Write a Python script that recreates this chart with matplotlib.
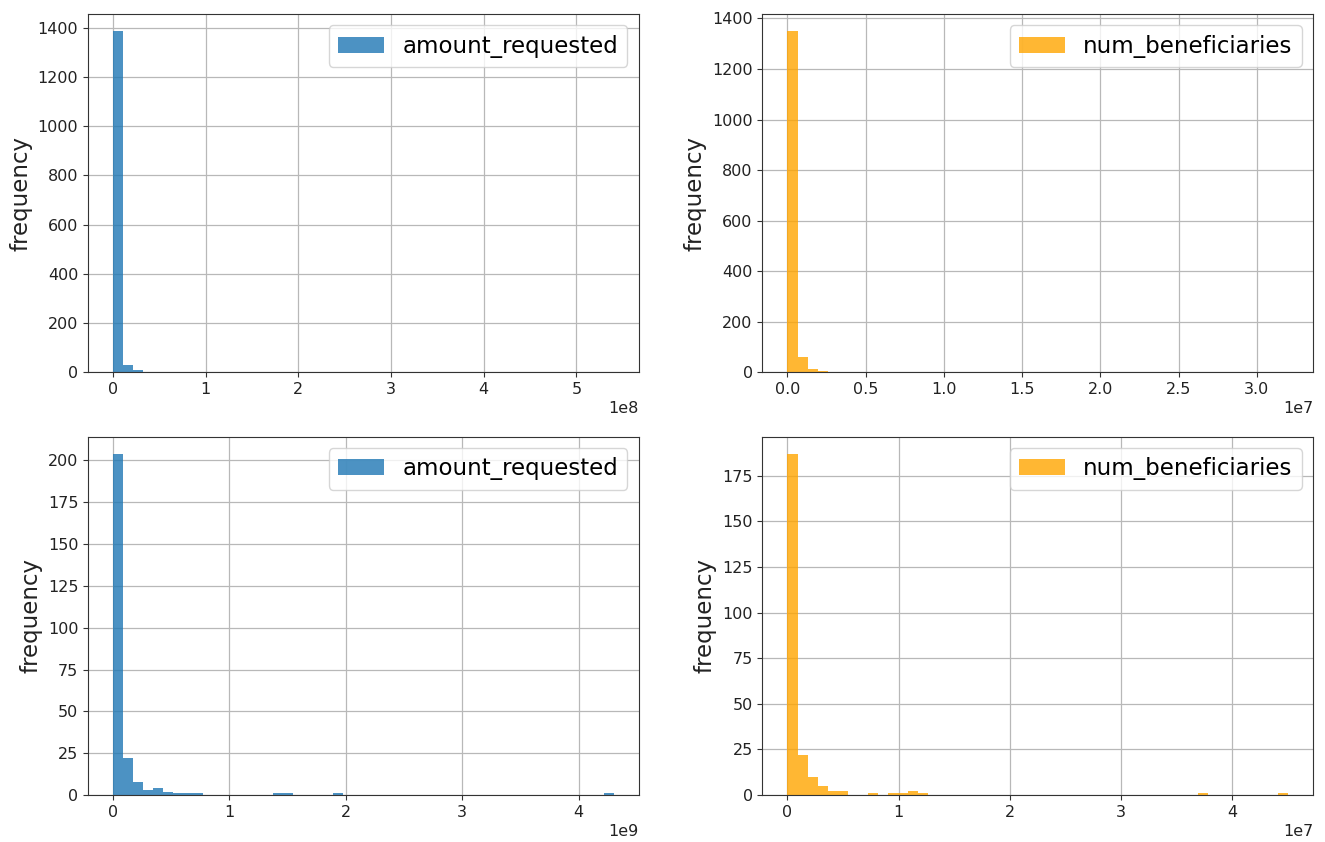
import numpy as np
import matplotlib
matplotlib.use("Agg")
import matplotlib.pyplot as plt

# bin counts (50 bins), with the data range of each panel
amount_all = [1387, 28, 11, 2, 0, 1] + [0] * 43 + [1]
amount_all_range = (0, 5.4e8)

benef_all = [1350, 61, 11, 4, 0, 1, 1] + [0] * 42 + [1]
benef_all_range = (0, 3.2e7)

amount_sub = [204, 22, 8, 3, 4, 2, 1, 1, 1, 0, 0, 0, 0, 0, 0, 0, 1, 1,
              0, 0, 0, 0, 1] + [0] * 26 + [1]
amount_sub_range = (0, 4.3e9)

benef_sub = [187, 22, 10, 5, 2, 2, 0, 0, 1, 0, 1, 1, 2, 1] + [0] * 27 + \
            [1, 0, 0, 0, 0, 0, 0, 0, 1]
benef_sub_range = (0, 4.5e7)

panels = [
    (amount_all, amount_all_range, "amount_requested", "#1f77b4"),
    (benef_all, benef_all_range, "num_beneficiaries", "orange"),
    (amount_sub, amount_sub_range, "amount_requested", "#1f77b4"),
    (benef_sub, benef_sub_range, "num_beneficiaries", "orange"),
]

fig, axs = plt.subplots(2, 2, figsize=(13.25, 8.42), dpi=100)
fig.subplots_adjust(left=0.0664, right=0.991, top=0.9834, bottom=0.0558,
                    wspace=0.225, hspace=0.18)

for ax, (counts, rng, label, color) in zip(axs.flat, panels):
    edges = np.linspace(rng[0], rng[1], len(counts) + 1)
    ax.hist(edges[:-1], bins=edges, weights=counts, color=color, alpha=0.8,
            label=label)
    ax.grid(True, color="#b8b8b8", linewidth=0.9)
    ax.set_axisbelow(True)
    for sp in ax.spines.values():
        sp.set_color("#333333")
    ax.set_ylabel("frequency", fontsize=16.5, color="#222222")
    ax.tick_params(labelsize=11.5, colors="#333333", labelcolor="#222222")
    ax.xaxis.get_offset_text().set_fontsize(11.5)
    ax.legend(loc="upper right", fontsize=16.5)

fig.savefig("out.png", dpi=100)
